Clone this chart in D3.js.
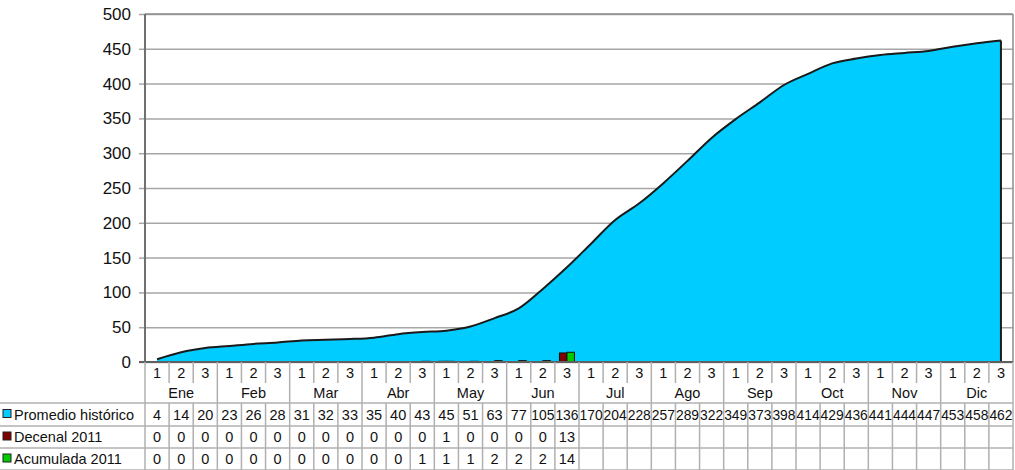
<!DOCTYPE html>
<html>
<head>
<meta charset="utf-8">
<script src="https://cdn.jsdelivr.net/npm/d3@7"></script>
<style>
	html, body { margin: 0; padding: 0; background: #fff; }
	svg { display: block; font-family: "Liberation Sans", Arial, sans-serif; }
	.grid line { stroke: #a6a6a6; stroke-width: 1.5; }
	.tbl line { stroke: #b0b0b0; stroke-width: 1.5; }
</style>
</head>
<body>
<div id="chart"></div>
<script>
// data
const months = ['Ene', 'Feb', 'Mar', 'Abr', 'May', 'Jun', 'Jul', 'Ago', 'Sep', 'Oct', 'Nov', 'Dic'];
const decades = ['1', '2', '3'];
const yTicks = [0, 50, 100, 150, 200, 250, 300, 350, 400, 450, 500];
const promedio = [4, 14, 20, 23, 26, 28, 31, 32, 33, 35, 40, 43, 45, 51, 63, 77, 105, 136,
	170, 204, 228, 257, 289, 322, 349, 373, 398, 414, 429, 436, 441, 444, 447, 453, 458, 462];
const decenal = [0, 0, 0, 0, 0, 0, 0, 0, 0, 0, 0, 0, 1, 0, 0, 0, 0, 13];
const acumulada = [0, 0, 0, 0, 0, 0, 0, 0, 0, 0, 0, 1, 1, 1, 2, 2, 2, 14];

const series = [
	{ name: 'Promedio histórico', values: promedio, color: '#00ccff' },
	{ name: 'Decenal 2011', values: decenal, color: '#800000' },
	{ name: 'Acumulada 2011', values: acumulada, color: '#00cc00' }
];

(function() {
	const W = 1015, H = 470;
	const mLeft = 145, mRight = 1013, mTop = 14, mBottom = 362;
	const fs = 14.5;

	const cats = d3.range(months.length * decades.length);

	const x = d3.scaleBand().domain(cats).range([mLeft, mRight]).padding(0);
	const y = d3.scaleLinear().domain([0, 500]).range([mBottom, mTop]);
	const bw = x.bandwidth();
	const cx = i => x(i) + bw / 2;

	const svg = d3.select('#chart').append('svg')
		.attr('width', W)
		.attr('height', H);

	// grid + y labels
	const yAxis = d3.axisLeft(y).tickValues(yTicks).tickSize(-(mRight - mLeft)).tickPadding(14);
	svg.append('g')
		.attr('class', 'grid')
		.attr('transform', `translate(${mLeft},0)`)
		.call(yAxis)
		.call(g => {
			g.select('.domain').remove();
			g.selectAll('.tick text').attr('font-size', 17).attr('fill', '#111')
				.attr('font-family', '"Liberation Sans", Arial, sans-serif');
			g.selectAll('.tick').append('line')
				.attr('x1', -6).attr('x2', 0)
				.attr('stroke', '#808080');
		});

	// area
	const area = d3.area()
		.curve(d3.curveMonotoneX)
		.x((d, i) => cx(i))
		.y0(y(0))
		.y1(d => y(d));

	const line = d3.line()
		.curve(d3.curveMonotoneX)
		.x((d, i) => cx(i))
		.y(d => y(d));

	svg.append('path')
		.datum(promedio)
		.attr('d', area)
		.attr('fill', series[0].color);

	svg.append('path')
		.datum(promedio)
		.attr('d', line)
		.attr('fill', 'none')
		.attr('stroke', '#1a1a1a')
		.attr('stroke-width', 2);

	// vertical edge at the end
	const last = promedio.length - 1;
	svg.append('line')
		.attr('x1', cx(last)).attr('x2', cx(last))
		.attr('y1', y(promedio[last])).attr('y2', y(0))
		.attr('stroke', '#1a1a1a').attr('stroke-width', 2);

	// bars
	const barW = 7.5;
	[series[1], series[2]].forEach((s, k) => {
		svg.append('g')
			.selectAll('rect')
			.data(s.values)
			.enter()
			.append('rect')
			.attr('x', (d, i) => cx(i) - barW + k * barW)
			.attr('y', d => y(d))
			.attr('width', barW)
			.attr('height', d => y(0) - y(d))
			.attr('fill', s.color)
			.attr('stroke', d => d > 0 ? '#111' : 'none')
			.attr('stroke-width', 1);
	});

	// plot frame
	svg.append('line').attr('x1', mLeft).attr('x2', mRight).attr('y1', mTop).attr('y2', mTop)
		.attr('stroke', '#8c8c8c').attr('stroke-width', 1.5);
	svg.append('line').attr('x1', mRight).attr('x2', mRight).attr('y1', mTop).attr('y2', mBottom)
		.attr('stroke', '#8c8c8c').attr('stroke-width', 1.5);
	svg.append('line').attr('x1', mLeft).attr('x2', mLeft).attr('y1', mTop).attr('y2', mBottom)
		.attr('stroke', '#707070').attr('stroke-width', 2);
	svg.append('line').attr('x1', mLeft - 6).attr('x2', mRight).attr('y1', mBottom).attr('y2', mBottom)
		.attr('stroke', '#606060').attr('stroke-width', 2);

	// table
	const rows = [362, 383, 403, 426, 448, 470];
	const tbl = svg.append('g').attr('class', 'tbl');

	rows.slice(2).forEach(r => {
		tbl.append('line').attr('x1', 0).attr('x2', mRight).attr('y1', r).attr('y2', r);
	});

	cats.concat([cats.length]).forEach(i => {
		const xx = i < cats.length ? x(i) : mRight;
		const isMonth = i % 3 === 0;
		tbl.append('line').attr('x1', xx).attr('x2', xx)
			.attr('y1', rows[0]).attr('y2', isMonth ? rows[5] : rows[1]);
		if (!isMonth) {
			tbl.append('line').attr('x1', xx).attr('x2', xx)
				.attr('y1', rows[2]).attr('y2', rows[5]);
		}
	});

	// decade labels
	tbl.selectAll('text.dec')
		.data(cats)
		.enter()
		.append('text')
		.attr('class', 'dec')
		.attr('x', d => cx(d))
		.attr('y', (rows[0] + rows[1]) / 2 + 5)
		.attr('text-anchor', 'middle')
		.attr('font-size', fs)
		.attr('fill', '#111')
		.text(d => decades[d % 3]);

	// month labels
	tbl.selectAll('text.mon')
		.data(months)
		.enter()
		.append('text')
		.attr('class', 'mon')
		.attr('x', (d, i) => cx(i * 3 + 1))
		.attr('y', (rows[1] + rows[2]) / 2 + 5)
		.attr('text-anchor', 'middle')
		.attr('font-size', fs)
		.attr('fill', '#111')
		.text(d => d);

	// series rows
	series.forEach((s, k) => {
		const r0 = rows[2 + k], r1 = rows[3 + k];
		const ym = (r0 + r1) / 2;
		tbl.append('rect')
			.attr('x', 3).attr('y', ym - 5)
			.attr('width', 8).attr('height', 8)
			.attr('fill', s.color)
			.attr('stroke', '#222').attr('stroke-width', 1);
		tbl.append('text')
			.attr('x', 14).attr('y', ym + 5)
			.attr('font-size', fs)
			.attr('fill', '#111')
			.text(s.name);
		tbl.selectAll(null)
			.data(s.values)
			.enter()
			.append('text')
			.attr('x', (d, i) => cx(i))
			.attr('y', ym + 5)
			.attr('text-anchor', 'middle')
			.attr('font-size', fs)
			.attr('fill', '#111')
			.attr('textLength', d => String(d).length > 2 ? bw - 1 : null)
			.attr('lengthAdjust', 'spacingAndGlyphs')
			.text(d => d);
	});
})();
</script>
</body>
</html>
